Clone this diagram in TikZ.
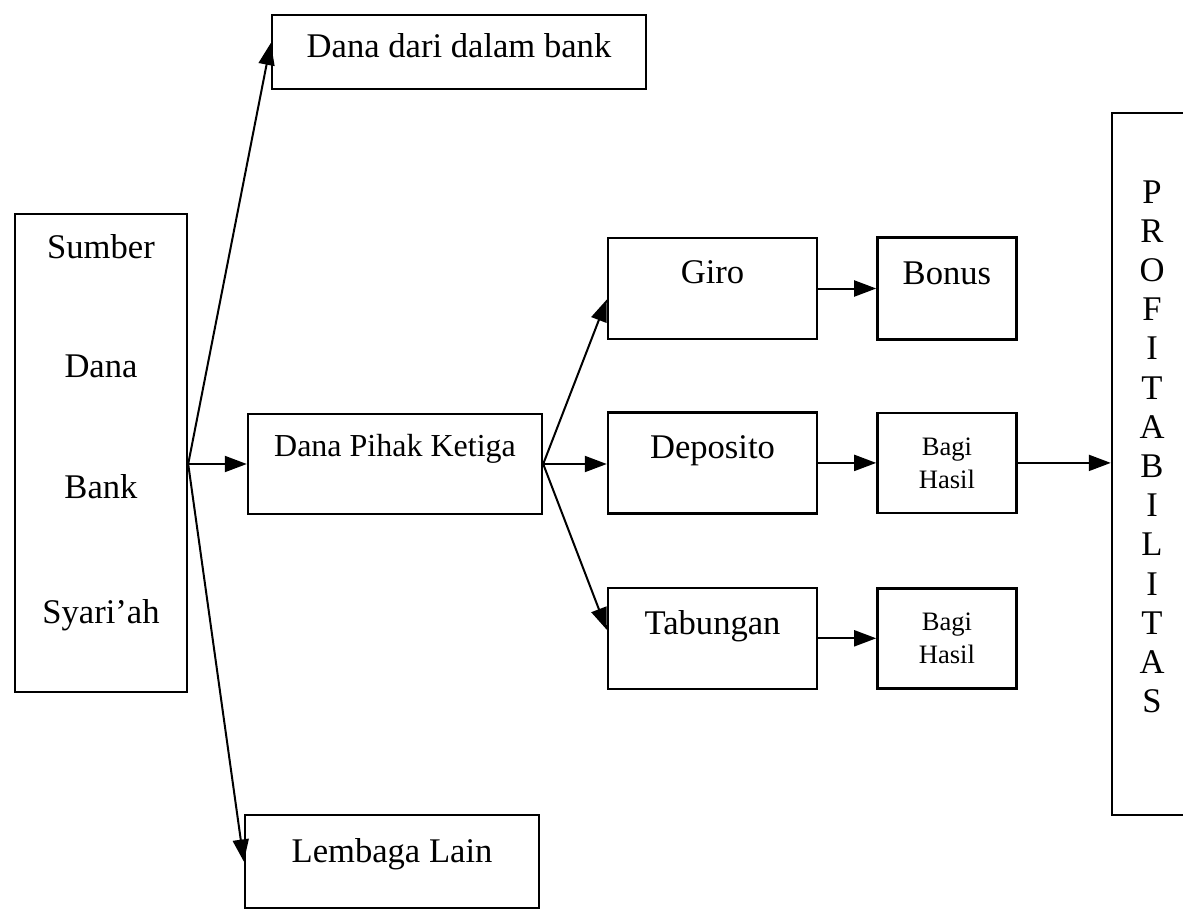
\documentclass[tikz,border=0pt]{standalone}
\usepackage{fontspec}
\setmainfont{Liberation Serif}
\usetikzlibrary{positioning,arrows.meta}

\tikzset{
  box/.style={draw, line width=1.2pt, inner sep=0pt,
    font=\fontsize{17.3}{20}\selectfont, text height=12pt, text depth=16pt},
  hasil/.style={draw, line width=1.2pt, inner sep=0pt, align=center,
    font=\fontsize{13.3}{16.5}\selectfont,
    minimum width=69.5pt, minimum height=50pt},
  col/.style={box, minimum width=104.5pt, minimum height=50.5pt},
  word/.style={inner sep=0pt, anchor=base, font=\fontsize{17.3}{20}\selectfont},
  conn/.style={line width=1pt, -{Triangle[length=11pt,width=8pt]}}
}

\begin{document}
\begin{tikzpicture}[x=0.5pt, y=-0.5pt]
  \useasboundingbox (0,0) rectangle (1183,910);
  % Tell it where the boxes are
  \node[box, minimum width=86pt, minimum height=239pt] (src) at (101,453) {};
  \foreach \w/\y [count=\i] in {Sumber/258, Dana/377, Bank/498, Syari’ah/623}
    \node[word] (src\i) at (101,\y) {\w};
  \node[box, minimum width=187pt, minimum height=37pt, text depth=6.5pt]
    (dalam) at (459,52) {Dana dari dalam bank};
  \node[box, minimum width=147pt, minimum height=50pt,
    font=\fontsize{16}{19}\selectfont, text depth=19.4pt]
    (dpk) at (395,464) {Dana Pihak Ketiga};
  \node[box, minimum width=147pt, minimum height=46.5pt, text depth=11.5pt]
    (lain) at (392,861.5) {Lembaga Lain};
  \node[col, text depth=17pt] (giro) at (712.5,288.5) {Giro};
  \node[col] (depo) [below=35.5pt of giro] {Deposito};
  \node[col] (tab) [below=36pt of depo] {Tabungan};
  \node[box, minimum width=69.5pt, minimum height=51pt, text depth=16.5pt]
    (bonus) [right=29pt of giro] {Bonus};
  \node[hasil] (hasil1) [right=29pt of depo] {Bagi\\Hasil};
  \node[hasil] (hasil2) [right=29pt of tab] {Bagi\\Hasil};
  \node[box, minimum width=40pt, minimum height=351pt] (prof) at (1152,464) {};
  \foreach \ch [count=\i from 0] in {P,R,O,F,I,T,A,B,I,L,I,T,A,S}
    \node[word] (prof\i) at (1152,203+39.2*\i) {\ch};
  % Tell it what arrows to draw
  \coordinate (fan) at (src.east |- dpk.west);
  \draw[conn] (fan) -- ([yshift=4.5pt]dalam.west);
  \draw[conn] (fan) -- (dpk.west);
  \draw[conn] (fan) -- (lain.west);
  \draw[conn] (dpk.east) -- ([yshift=-5.5pt]giro.west);
  \draw[conn] (dpk.east) -- (dpk.east -| depo.west);
  \draw[conn] (dpk.east) -- ([yshift=4.25pt]tab.west);
  \draw[conn] (giro) -- (bonus);
  \draw[conn] (depo) -- (hasil1);
  \draw[conn] (tab) -- (hasil2);
  \draw[conn] (hasil1.east) -- (hasil1.east -| prof.west);
\end{tikzpicture}
\end{document}
